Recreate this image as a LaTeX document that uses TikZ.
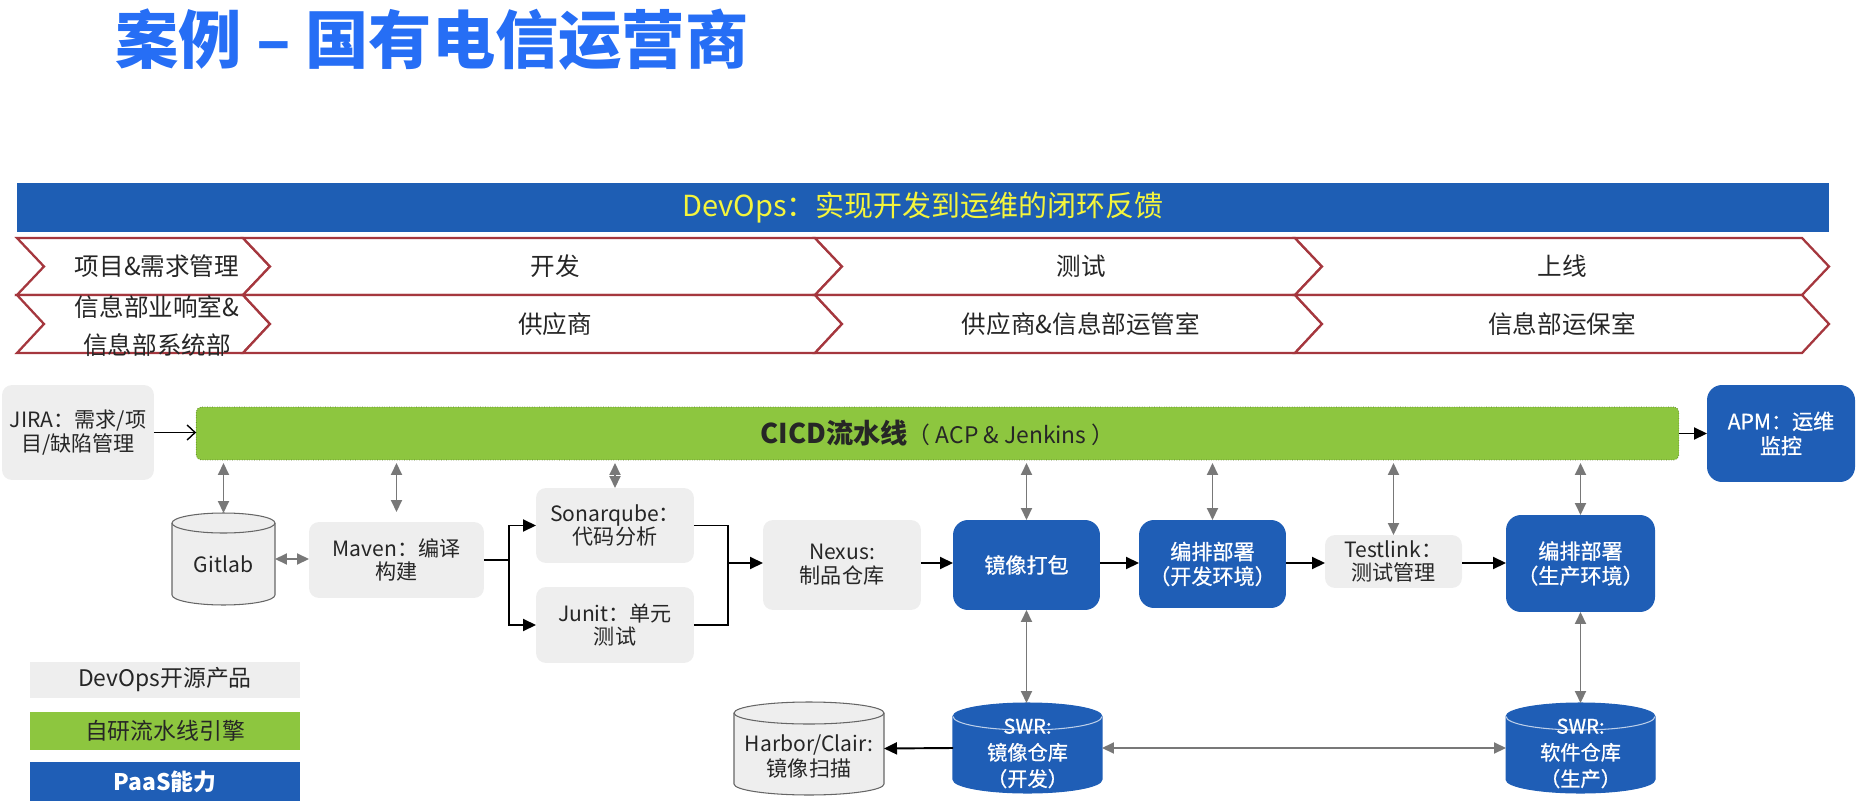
\documentclass[tikz,border=0pt]{standalone}
\usepackage{fontspec}
\setmainfont{Noto Sans CJK SC}
\newfontfamily\paasfont{Noto Sans CJK SC}[FakeBold=0.8]
\usepackage{xcolor}
\usepackage{tikz}
\usetikzlibrary{arrows.meta,positioning,backgrounds}
\newcommand{\fsz}[2]{\fontsize{#1}{#2}\selectfont}
\newcommand{\lowtext}[2]{\raisebox{-#1}[0pt][0pt]{\begin{tabular}{@{}c@{}}#2\end{tabular}}}
% node, x radius, y radius, fill, outline, front arc
\newcommand{\dbcyl}[6]{%
  \path[fill=#4, draw=#5, line width=0.6pt] ([yshift=-#3]#1.north west) -- ([yshift=#3]#1.south west)
    arc[start angle=180, end angle=360, x radius=#2, y radius=#3] -- ([yshift=-#3]#1.north east)
    arc[start angle=0, end angle=180, x radius=#2, y radius=#3] -- cycle;
  \draw[#6, line width=0.6pt] ([yshift=-#3]#1.north west) arc[start angle=180, end angle=360, x radius=#2, y radius=#3];}
\definecolor{titleblue}{RGB}{38,110,245}
\definecolor{bannerblue}{RGB}{30,94,180}
\definecolor{bannertext}{RGB}{245,245,60}
\definecolor{chevred}{RGB}{165,55,62}
\definecolor{pipegreen}{RGB}{141,198,63}
\definecolor{paasblue}{RGB}{31,94,182}
\definecolor{osgray}{RGB}{238,238,238}
\definecolor{arrgray}{RGB}{120,120,120}

\begin{document}
\begin{tikzpicture}[x=0.02cm, y=-0.02cm,
  every node/.style={font=\fsz{12}{13.5}, text=black!85, inner sep=0pt, outer sep=0pt, align=center},
  os/.style={fill=osgray, rounded corners=2mm},
  paas/.style={fill=paasblue, text=white, rounded corners=3mm, font=\paasfont\fsz{12}{14}},
  stage/.style={font=\fsz{14}{21.5}},
  legend/.style={minimum width=54mm, font=\fsz{13}{15}},
  chev/.style={draw=chevred, line width=1.3pt, fill=white, line join=miter},
  arr/.style={-{Triangle[length=2.6mm,width=2.4mm]}, line width=1.1pt},
  dbl/.style={{Triangle[length=2.4mm,width=2.2mm]}-{Triangle[length=2.4mm,width=2.2mm]}, draw=arrgray, line width=1.1pt}]
\useasboundingbox (0,0) rectangle (1860,811);

% title and banner
\node[font=\fsz{36}{40}\bfseries, text=titleblue] (title) at (432,40) {案例 – 国有电信运营商};
\node[fill=bannerblue, minimum width=362.4mm, minimum height=9.8mm, text=bannertext, font=\fsz{16.5}{18}] (banner) at (923,207.5) {DevOps：实现开发到运维的闭环反馈};

% stages
\foreach \xa/\xb in {17/243,243/815,815/1295,1295/1802}
  \foreach \ya/\yb in {238/295,295/353}
    \draw[chev] (\xa,\ya) -- (\xb,\ya) -- (\xb+27,{(\ya+\yb)/2}) -- (\xb,\yb) -- (\xa,\yb) -- (\xa+27,{(\ya+\yb)/2}) -- cycle;
\node[stage] (plan) at (157,266) {项目\&需求管理};
\node[stage] (dev) at (555,266) {开发};
\node[stage] (test) at (1081,266) {测试};
\node[stage] (live) at (1562,266) {上线};
\node[stage] (org1) at (157,326) {信息部业响室\&\\信息部系统部};
\node[stage] (org2) at (555,324) {供应商};
\node[stage] (org3) at (1081,324) {供应商\&信息部运管室};
\node[stage] (org4) at (1562,324) {信息部运保室};

% pipeline
\node[os, minimum width=30.4mm, minimum height=19mm] (jira) at (78,432.5) {JIRA：需求/项\\目/缺陷管理};
\node[fill=pipegreen, draw=pipegreen!60!black, densely dotted, rounded corners=1mm, minimum width=296.6mm, minimum height=10.6mm, font=\fsz{13}{15}] (cicd) at (937.5,433.5) {{\fsz{15.5}{17}\bfseries CICD流水线}（ ACP \& Jenkins ）};
\node[paas, minimum width=29.6mm, minimum height=19.4mm] (apm) at (1781,433.5) {APM：运维\\监控};

\node[minimum width=20.6mm, minimum height=18.4mm] (gitlab) at (223.5,559) {\lowtext{2.7mm}{Gitlab}};
\node[os, minimum width=35mm, minimum height=15.2mm] (maven) at (396.5,560) {Maven：编译\\构建};
\node[os, minimum width=31.6mm, minimum height=15mm] (sonar) at (615,525.5) {Sonarqube：\\代码分析};
\node[os, minimum width=31.6mm, minimum height=15.2mm] (junit) at (615,625) {Junit：单元\\测试};
\node[os, minimum width=31.6mm, minimum height=18mm] (nexus) at (842,565) {Nexus:\\制品仓库};
\node[paas, minimum width=29.4mm, minimum height=18mm] (pack) at (1026.5,565) {镜像打包};
\node[paas, minimum width=29.4mm, minimum height=17.6mm] (devdep) at (1212.5,564) {编排部署\\（开发环境）};
\node[os, minimum width=27.4mm, minimum height=10.6mm] (testlink) at (1393.5,561.5) {Testlink：\\测试管理};
\node[paas, minimum width=29.8mm, minimum height=19.4mm] (proddep) at (1580.5,563.5) {编排部署\\（生产环境）};

\node[minimum width=30mm, minimum height=18.6mm] (harbor) at (809,748.5) {\lowtext{3.2mm}{Harbor/Clair:\\镜像扫描}};
\node[text=white, font=\paasfont\fsz{11.5}{15}, minimum width=29.8mm, minimum height=18mm] (swrdev) at (1027.5,748) {\lowtext{2.4mm}{SWR:\\镜像仓库\\（开发）}};
\node[text=white, font=\paasfont\fsz{11.5}{15}, minimum width=29.8mm, minimum height=18mm] (swrprod) at (1580.5,748) {\lowtext{2.4mm}{SWR:\\软件仓库\\（生产）}};
\begin{scope}[on background layer]
  \dbcyl{gitlab}{10.3mm}{2mm}{osgray}{black!60}{black!60}
  \dbcyl{harbor}{15mm}{2.2mm}{osgray}{black!60}{black!60}
  \dbcyl{swrdev}{14.9mm}{2.7mm}{paasblue}{paasblue}{white!70!paasblue}
  \dbcyl{swrprod}{14.9mm}{2.7mm}{paasblue}{paasblue}{white!70!paasblue}
\end{scope}

% legend
\node[legend, fill=osgray, minimum height=7.2mm] (lgos) at (165,680) {DevOps开源产品};
\node[legend, fill=pipegreen, minimum height=7.6mm] (lgpipe) at (165,731) {自研流水线引擎};
\node[legend, fill=paasblue, text=white, minimum height=7.8mm, font=\fsz{13}{15}\bfseries] (lgpaas) at (165,781.5) {PaaS能力};

% connectors
\draw[-{Straight Barb[length=1.6mm,width=3mm]}, line width=0.8pt] (jira.east) -- (jira.east -| cicd.west);
\draw[arr] (cicd.east) -- (cicd.east -| apm.west);
\foreach \n in {gitlab,sonar,pack,devdep,testlink,proddep}
  \draw[dbl, shorten <=0.6mm] (cicd.south -| \n.north) -- (\n.north);
\draw[dbl, shorten <=0.6mm, shorten >=2mm] (cicd.south -| maven.north) -- (maven.north);
\draw[dbl] (gitlab.east) -- (gitlab.east -| maven.west);

\coordinate (split) at (509,560);
\coordinate (merge) at (728,563);
\draw[arr] (maven.east) -- (split) |- (sonar.west);
\draw[arr] (split) |- (junit.west);
\draw[line width=1.1pt] (sonar.east) -| (merge);
\draw[line width=1.1pt] (junit.east) -| (merge);
\draw[arr] (merge) -- (merge -| nexus.west);
\draw[arr] (nexus.east |- merge) -- (merge -| pack.west);
\draw[arr] (pack.east |- merge) -- (merge -| devdep.west);
\draw[arr] (devdep.east |- merge) -- (merge -| testlink.west);
\draw[arr] (testlink.east |- merge) -- (merge -| proddep.west);

\draw[dbl] (pack.south) -- (pack.south |- swrdev.north);
\draw[dbl] (proddep.south) -- (proddep.south |- swrprod.north);
\draw[dbl] (swrdev.east) -- (swrprod.west);
\draw[arr] (swrdev.west) -- (harbor.east);
\end{tikzpicture}
\end{document}
